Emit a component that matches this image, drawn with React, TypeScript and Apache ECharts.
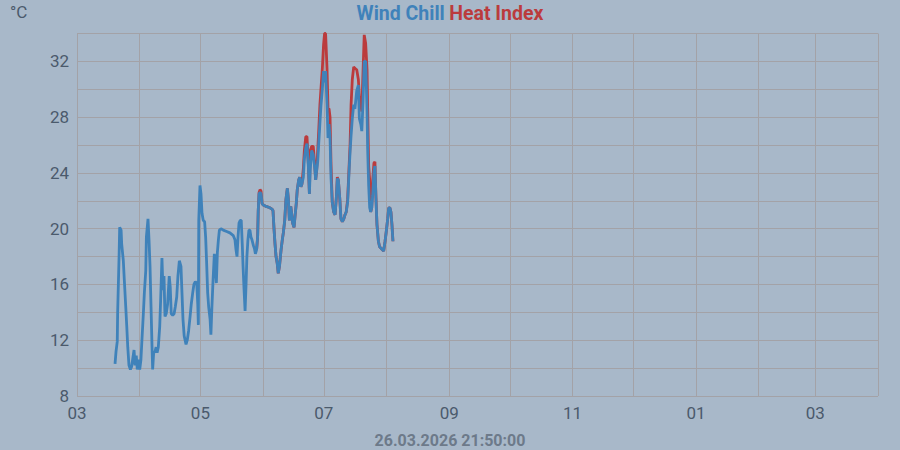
import React, { useEffect, useRef } from "react";
import * as echarts from "echarts";

// x = days since 2025-03-01
const monthStarts = [0, 31, 61, 92, 122, 153, 184, 214, 245, 275, 306, 337, 365, 396];
const monthLabels = ["03", "04", "05", "06", "07", "08", "09", "10", "11", "12", "01", "02", "03", "04"];
const labelDays = [0, 61, 122, 184, 245, 306, 365];
const yMin = 8;
const yMax = 34;
const timestamp = "26.03.2026 21:50:00";

const days = [
  18.8, 19.3, 19.9, 20.1, 20.8, 21.1, 21.8, 22.1, 22.9, 23.4,
  24.1, 24.6, 25.1, 25.7, 26.4, 27.0, 27.5, 28.2, 28.7, 29.3,
  29.8, 30.3, 31.0, 31.6, 32.1, 32.8, 33.3, 34.0, 34.3, 35.1,
  35.6, 36.1, 36.6, 37.1, 37.4, 37.9, 38.6, 39.1, 39.6, 40.2,
  40.9, 41.4, 42.0, 42.5, 43.0, 43.5, 44.1, 44.8, 45.6, 46.1,
  46.6, 47.3, 48.0, 48.6, 49.3, 49.9, 50.6, 51.4, 51.9, 52.4,
  53.0, 53.9, 54.5, 55.2, 55.9, 56.5, 57.2, 57.8, 58.5, 59.2,
  59.7, 60.0, 60.2, 60.8, 61.3, 61.8, 62.4, 63.1, 63.6, 64.1,
  64.6, 65.1, 65.8, 66.2, 66.7, 67.2, 67.9, 68.4, 68.9, 69.4,
  69.9, 70.4, 71.2, 72.3, 74.0, 75.6, 77.3, 78.1, 78.6, 79.1,
  79.6, 80.1, 80.7, 81.2, 81.7, 82.1, 82.6, 83.1, 83.6, 84.0,
  84.5, 85.0, 85.5, 86.0, 86.5, 87.2, 87.7, 88.2, 88.8, 89.3,
  89.6, 90.0, 90.5, 91.0, 91.5, 92.1, 93.5, 95.4, 96.4, 96.9,
  97.4, 97.9, 98.4, 99.0, 99.5, 100.1, 100.9, 101.5, 102.0, 102.7,
  103.3, 104.0, 104.5, 105.0, 105.7, 106.1, 106.6, 107.3, 107.8, 108.4,
  108.9, 109.6, 110.1, 110.7, 111.2, 111.9, 112.4, 113.1, 113.7, 114.4,
  114.9, 115.3, 116.0, 116.8, 117.5, 118.0, 118.5, 119.0, 119.5, 120.1,
  120.6, 121.3, 121.9, 122.4, 122.9, 123.6, 124.1, 124.6, 125.1, 125.6,
  126.2, 126.9, 127.6, 128.2, 128.7, 129.2, 129.9, 130.5, 131.2, 131.9,
  132.5, 133.1, 133.8, 134.5, 135.0, 135.5, 136.1, 136.8, 137.4, 138.3,
  139.1, 139.6, 140.3, 140.8, 141.4, 142.0, 142.7, 143.4, 143.7, 144.2,
  144.7, 145.2, 145.7, 146.2, 146.8, 147.3, 147.8, 148.3, 149.0, 149.6,
  150.3, 150.9, 151.6, 152.3, 152.9, 153.6, 154.1, 154.7, 155.2, 155.7,
  156.2,
];

const windChill = [
  10.3, 11.2, 11.9, 14.0, 18.0, 20.1, 19.9, 18.9, 17.7, 16.3,
  14.4, 13.0, 11.5, 10.2, 9.9, 10.1, 10.6, 11.3, 10.2, 10.9,
  9.9, 10.6, 9.9, 10.6, 12.0, 13.9, 15.4, 17.0, 19.4, 20.7,
  19.2, 17.3, 14.4, 11.5, 9.9, 11.1, 11.2, 11.5, 11.1, 11.5,
  13.0, 15.1, 17.9, 15.6, 16.6, 13.7, 13.9, 14.6, 16.6, 15.8,
  13.9, 13.8, 13.9, 14.4, 15.1, 16.6, 17.7, 17.3, 15.4, 13.5,
  12.3, 11.7, 12.0, 12.7, 13.7, 14.6, 15.4, 16.0, 16.2, 16.1,
  14.6, 13.1, 20.6, 23.1, 22.5, 21.1, 20.6, 20.5, 19.4, 17.5,
  15.4, 14.4, 13.5, 12.4, 14.4, 16.1, 18.2, 17.3, 16.1, 18.3,
  19.2, 19.9, 20.0, 19.9, 19.8, 19.7, 19.5, 19.2, 18.5, 18.0,
  19.4, 20.4, 20.6, 20.6, 18.9, 17.3, 15.6, 14.1, 16.1, 18.0,
  19.2, 19.9, 19.9, 19.4, 19.2, 18.8, 18.6, 18.2, 18.5, 19.4,
  21.3, 22.5, 22.6, 22.5, 21.8, 21.7, 21.6, 21.5, 21.4, 21.3,
  20.0, 18.9, 18.0, 17.5, 16.8, 17.3, 18.5, 19.2, 19.7, 20.6,
  22.1, 22.9, 22.1, 20.6, 21.6, 21.1, 20.4, 20.1, 20.9, 21.8,
  22.8, 23.5, 23.7, 23.0, 23.2, 23.7, 25.0, 25.8, 26.1, 24.4,
  22.5, 24.2, 25.6, 25.3, 24.4, 23.5, 24.2, 24.8, 26.1, 27.6,
  28.8, 30.0, 31.3, 30.5, 31.3, 29.0, 26.5, 27.5, 26.5, 23.6,
  21.9, 21.2, 21.0, 22.2, 23.6, 23.5, 22.2, 20.7, 20.5, 20.7,
  21.0, 21.2, 21.9, 24.1, 25.5, 26.7, 27.9, 28.9, 28.6, 29.9,
  30.3, 27.9, 27.5, 27.0, 29.1, 32.0, 32.0, 28.4, 25.7, 23.1,
  21.5, 21.2, 21.5, 22.4, 24.1, 24.5, 22.2, 20.3, 19.1, 18.7,
  18.6, 18.5, 18.4, 19.1, 19.8, 20.7, 21.5, 21.5, 21.2, 20.3,
  19.1,
];

// heat index for the warm stretch, starting at days[118]
const heatStart = 118;
const heatIndex = [
  18.5, 19.4,
  21.3, 22.6, 22.8, 22.7, 21.8, 21.7, 21.6, 21.5, 21.4, 21.3,
  20.0, 18.9, 18.0, 17.5, 16.8, 17.3, 18.5, 19.2, 19.7, 20.6,
  22.1, 22.9, 22.1, 20.6, 21.6, 21.1, 20.4, 20.1, 20.9, 21.8,
  22.8, 23.5, 23.7, 23.0, 23.2, 24.3, 25.6, 26.6, 26.6, 24.6,
  22.5, 25.6, 25.9, 25.9, 24.6, 23.5, 24.2, 25.6, 27.0, 28.9,
  30.0, 31.5, 33.2, 34.0, 34.0, 31.5, 28.6, 28.6, 28.0, 24.5,
  21.9, 21.2, 21.0, 22.2, 23.7, 23.5, 22.2, 20.7, 20.5, 20.7,
  21.0, 21.2, 22.1, 24.4, 26.0, 28.9, 30.7, 31.6, 31.5, 31.4,
  30.7, 29.5, 29.0, 28.4, 31.2, 33.9, 33.3, 31.4, 28.6, 24.5,
  23.5, 21.2, 21.5, 23.5, 24.7, 24.8, 22.2, 20.3, 19.1, 18.7,
  18.6, 18.5, 18.4, 19.1, 19.8, 20.7, 21.5, 21.5, 21.2, 20.3,
  19.1,
];

const BG = "#a8b8c9";
const GRID = "#a3a2a7";
const TEXT = "#4b5a6c";
const BLUE = "#3f82ba";
const RED = "#bb3b3d";
const FONT = "Roboto, 'DejaVu Sans', sans-serif";

export default function App() {
  const ref = useRef<HTMLDivElement>(null);
  useEffect(() => {
    if (!ref.current) return;
    const chart = echarts.init(ref.current, undefined, { renderer: "svg" });
    const wcData = days.map((d, i) => [d, windChill[i]]);
    const hiData = heatIndex.map((v, i) => [days[heatStart + i], v]);
    chart.setOption({
      animation: false,
      backgroundColor: BG,
      textStyle: { fontFamily: FONT },
      title: {
        left: "center",
        top: -2,
        text: "{b|Wind Chill} {r|Heat Index}",
        textStyle: {
          rich: {
            b: { color: BLUE, fontSize: 19.5, fontWeight: "bold", fontFamily: FONT },
            r: { color: RED, fontSize: 19.5, fontWeight: "bold", fontFamily: FONT },
          },
        },
      },
      graphic: [
        {
          type: "text",
          left: 10,
          top: 3,
          style: { text: "°C", fill: TEXT, fontSize: 17, fontFamily: FONT },
        },
        {
          type: "text",
          left: "center",
          top: 432,
          style: { text: timestamp, fill: "#6d7a8a", fontSize: 16, fontFamily: FONT, fontWeight: "bold" },
        },
      ],
      grid: { left: 77, right: 22, top: 33.5, bottom: 54, show: false },
      xAxis: {
        type: "value",
        min: monthStarts[0],
        max: monthStarts[monthStarts.length - 1],
        axisLine: { show: false },
        axisTick: { show: false, customValues: monthStarts },
        splitLine: { show: true, lineStyle: { color: GRID, width: 1 } },
        axisLabel: {
          customValues: labelDays,
          formatter: (v: number) => {
            const i = monthStarts.indexOf(Math.round(v));
            return i >= 0 ? monthLabels[i] : "";
          },
          color: TEXT,
          fontSize: 17,
          fontFamily: FONT,
          margin: 8,
          showMinLabel: true,
          showMaxLabel: true,
        },
      },
      yAxis: {
        type: "value",
        min: yMin,
        max: yMax,
        interval: 2,
        axisLine: { show: false },
        axisTick: { show: false },
        splitLine: { show: true, lineStyle: { color: GRID, width: 1 } },
        axisLabel: {
          formatter: (v: number) => (v % 4 === 0 ? String(v) : ""),
          color: TEXT,
          fontSize: 17,
          fontFamily: FONT,
          margin: 8,
        },
      },
      series: [
        {
          name: "Heat Index",
          type: "line",
          data: hiData,
          showSymbol: false,
          symbol: "none",
          lineStyle: { color: RED, width: 2.8 },
          itemStyle: { color: RED },
        },
        {
          name: "Wind Chill",
          type: "line",
          data: wcData,
          showSymbol: false,
          symbol: "none",
          lineStyle: { color: BLUE, width: 2.8 },
          itemStyle: { color: BLUE },
        },
      ],
    });
    return () => chart.dispose();
  }, []);
  return <div ref={ref} style={{ width: 900, height: 450, position: "absolute", left: 0, top: 0 }} />;
}
